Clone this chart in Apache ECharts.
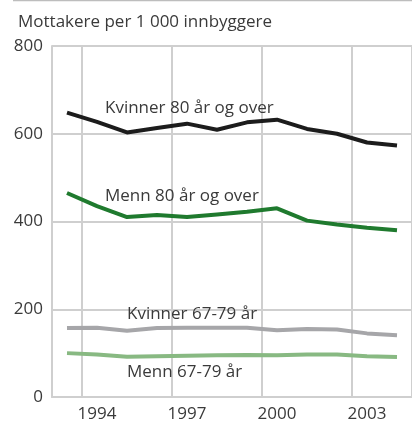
<!DOCTYPE html>
<html>
<head>
<meta charset="utf-8">
<script src="https://cdn.jsdelivr.net/npm/echarts@6/dist/echarts.min.js"></script>
<style>
    html, body { margin: 0; padding: 0; background: #ffffff; }
    #chart { width: 412px; height: 423px; }
</style>
</head>
<body>
<div id="chart"></div>
<script>
const years = ["1993", "1994", "1995", "1996", "1997", "1998", "1999", "2000", "2001", "2002", "2003", "2004"];

const kvinner80 = [648, 627, 603, 613, 623, 609, 626, 632, 611, 600, 580, 573];
const menn80 = [465, 435, 410, 415, 410, 416, 422, 430, 402, 393, 386, 380];
const kvinner6779 = [157, 158, 151, 157, 158, 158, 158, 152, 155, 154, 145, 141];
const menn6779 = [100, 97, 92, 93, 94, 95, 96, 95, 97, 97, 93, 91];

const yTicks = [0, 200, 400, 600, 800];
const shownYears = ["1994", "1997", "2000", "2003"];

const FONT = "Open Sans";
const TEXT_COLOR = "#3a3a3a";
const GRID_COLOR = "#cfcfcf";

function showYear(index) {
    return shownYears.includes(years[index]);
}

function lineSeries(name, values, color, labelYear, labelValue, labelDistance) {
    return {
        name: name,
        type: "line",
        data: values,
        symbol: "none",
        smooth: false,
        lineStyle: {
            color: color,
            width: 4
        },
        markPoint: {
            symbol: "circle",
            symbolSize: 0,
            silent: true,
            data: [
                {
                    coord: [labelYear, labelValue],
                    label: {
                        show: true,
                        formatter: name,
                        position: "right",
                        distance: labelDistance,
                        color: TEXT_COLOR,
                        fontFamily: FONT,
                        fontSize: 17
                    }
                }
            ]
        }
    };
}

const chart = echarts.init(document.getElementById("chart"), null, { renderer: "canvas" });

chart.setOption({
    animation: false,
    title: {
        text: "Mottakere per 1 000 innbyggere",
        left: 13,
        top: 9,
        textStyle: {
            color: TEXT_COLOR,
            fontFamily: FONT,
            fontSize: 17,
            fontWeight: "normal"
        }
    },
    graphic: [
        {
            type: "line",
            shape: { x1: 13, y1: 0.5, x2: 412, y2: 0.5 },
            style: { stroke: "#bdbdbd", lineWidth: 1.5 }
        }
    ],
    grid: {
        left: 52,
        right: -2,
        top: 46,
        bottom: 25
    },
    xAxis: {
        type: "category",
        data: years,
        boundaryGap: true,
        axisLine: {
            lineStyle: { color: GRID_COLOR, width: 2 }
        },
        axisTick: {
            inside: true,
            alignWithLabel: true,
            interval: 0,
            length: 9,
            lineStyle: { color: GRID_COLOR, width: 2 }
        },
        axisLabel: {
            interval: showYear,
            color: TEXT_COLOR,
            fontFamily: FONT,
            fontSize: 17,
            margin: 9
        },
        splitLine: {
            show: true,
            interval: showYear,
            lineStyle: { color: GRID_COLOR, width: 2 }
        }
    },
    yAxis: {
        type: "value",
        min: yTicks[0],
        max: yTicks[yTicks.length - 1],
        interval: 200,
        axisLine: {
            show: true,
            lineStyle: { color: GRID_COLOR, width: 2 }
        },
        axisTick: { show: false },
        axisLabel: {
            color: TEXT_COLOR,
            fontFamily: FONT,
            fontSize: 17,
            margin: 9
        },
        splitLine: {
            show: true,
            lineStyle: { color: GRID_COLOR, width: 2 }
        }
    },
    series: [
        lineSeries("Kvinner 80 år og over", kvinner80, "#1c1c1c", "1994", 659, 8),
        lineSeries("Menn 80 år og over", menn80, "#1f7a2e", "1994", 457, 8),
        lineSeries("Kvinner 67-79 år", kvinner6779, "#a6a6a9", "1995", 189, 0),
        lineSeries("Menn 67-79 år", menn6779, "#88b982", "1995", 57, 0)
    ]
});
</script>
</body>
</html>
